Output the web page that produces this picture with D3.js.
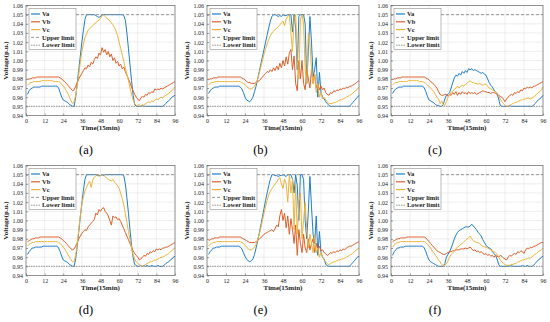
<!DOCTYPE html>
<html>
<head>
<meta charset="utf-8">
<script src="https://cdn.jsdelivr.net/npm/d3@7"></script>
<style>
	body { margin: 0; background: #fff; }
	svg { display: block; font-family: "Liberation Serif", "DejaVu Serif", serif; }
</style>
</head>
<body>
<div id="chart"></div>
<script>
// time steps (15 min) and axis ticks
var times = d3.range(1, 97);
var xTicks = [0, 12, 24, 36, 48, 60, 72, 84, 96];
var yTicks = [0.94, 0.95, 0.96, 0.97, 0.98, 0.99, 1.00, 1.01, 1.02, 1.03, 1.04, 1.05, 1.06];
var upperLimit = 1.05;
var lowerLimit = 0.95;
var seriesNames = ["Va", "Vb", "Vc"];
var limitNames = ["Upper limit", "Lower limit"];
var panelLabels = ["(a)", "(b)", "(c)", "(d)", "(e)", "(f)"];

// (a)
var aVa = [.963,.967,.969,.970,.971,.971,.971,.971,.971,.972,.972,.972,
	.972,.972,.972,.972,.972,.972,.972,.972,.970,.965,.960,.957,
	.956,.955,.954,.952,.951,.950,.950,.960,.975,.990,1.005,1.020,
	1.033,1.045,1.050,1.050,1.050,1.050,1.050,1.050,1.049,1.048,1.047,1.048,
	1.050,1.050,1.050,1.050,1.050,1.050,1.050,1.050,1.050,1.050,1.050,1.050,
	1.050,1.050,1.049,1.044,1.030,1.013,.995,.978,.962,.952,.950,.950,
	.950,.950,.951,.950,.950,.950,.950,.950,.950,.950,.950,.950,
	.950,.950,.950,.950,.951,.953,.955,.956,.958,.960,.961,.962];
var aVb = [.979,.980,.980,.981,.981,.981,.982,.982,.982,.982,.982,.982,
	.982,.982,.982,.982,.982,.982,.982,.982,.982,.981,.980,.978,
	.977,.975,.973,.971,.969,.967,.968,.972,.976,.980,.983,.986,
	.989,.992,.991,.995,.993,.998,.996,1.001,1.004,1.002,1.008,1.006,
	1.014,1.009,1.012,1.006,1.010,1.004,1.007,1.000,1.003,.997,.999,.994,
	.996,.991,.993,.988,.984,.980,.976,.971,.967,.963,.960,.958,
	.956,.959,.961,.960,.963,.962,.965,.964,.966,.965,.969,.968,
	.969,.968,.970,.969,.970,.971,.972,.973,.974,.975,.976,.977];
var aVc = [.973,.975,.976,.976,.977,.977,.977,.977,.977,.978,.978,.978,
	.978,.978,.978,.978,.978,.977,.977,.977,.977,.976,.974,.972,
	.970,.967,.964,.960,.956,.953,.955,.962,.972,.985,.998,1.010,
	1.018,1.025,1.029,1.033,1.035,1.036,1.038,1.040,1.041,1.043,1.044,1.046,
	1.049,1.050,1.048,1.046,1.045,1.043,1.041,1.039,1.036,1.032,1.027,1.020,
	1.013,1.006,.999,.992,.985,.978,.970,.963,.957,.953,.951,.951,
	.952,.950,.952,.951,.953,.954,.955,.954,.956,.955,.957,.958,
	.957,.959,.960,.959,.961,.962,.963,.964,.966,.967,.969,.971];

// (b)
var bVa = [.964,.967,.969,.970,.971,.971,.971,.972,.972,.972,.972,.972,
	.972,.972,.972,.972,.972,.972,.972,.972,.971,.969,.965,.960,
	.957,.956,.955,.957,.960,.966,.972,.980,.988,.996,1.004,1.012,
	1.020,1.028,1.036,1.043,1.048,1.050,1.050,1.049,1.048,1.049,1.048,1.050,
	1.049,1.049,1.050,1.050,1.050,1.031,1.050,1.035,.990,1.048,1.050,1.050,
	1.050,1.040,.975,1.010,1.048,1.020,.982,.990,1.003,.960,.987,.965,
	.960,.958,.955,.953,.951,.950,.950,.950,.950,.950,.950,.950,
	.950,.950,.950,.950,.950,.950,.952,.954,.956,.958,.960,.962];
var bVb = [.979,.980,.980,.981,.981,.981,.982,.982,.982,.982,.982,.982,
	.982,.982,.982,.982,.982,.982,.982,.982,.982,.981,.980,.979,
	.977,.976,.976,.975,.975,.975,.976,.977,.978,.980,.982,.984,
	.986,.988,.987,.990,.988,.992,.989,.994,.990,.997,.992,1.000,
	.994,1.004,.996,1.008,1.012,.990,1.005,.975,.967,1.000,.980,1.000,
	.975,.968,.990,.980,.970,.990,.975,.985,.970,.975,.968,.972,
	.968,.970,.965,.963,.962,.965,.964,.967,.966,.968,.967,.969,
	.968,.970,.969,.971,.970,.972,.972,.973,.974,.975,.977,.978];
var bVc = [.973,.975,.976,.976,.977,.977,.977,.977,.977,.977,.977,.977,
	.977,.977,.977,.977,.977,.977,.977,.977,.977,.976,.975,.974,
	.972,.970,.969,.969,.970,.972,.975,.980,.986,.993,1.000,1.007,
	1.013,1.018,1.023,1.027,1.030,1.032,1.034,1.035,1.037,1.039,1.041,1.043,
	1.038,1.045,1.048,1.050,1.030,1.010,1.045,1.050,1.000,.980,1.045,1.050,
	1.040,.990,.975,1.030,1.020,.990,.975,.985,.965,.975,.960,.965,
	.958,.960,.957,.955,.953,.953,.953,.954,.954,.955,.956,.957,
	.957,.958,.959,.960,.961,.962,.963,.964,.966,.967,.969,.971];

// (c)
var cVa = [.964,.967,.969,.970,.971,.971,.971,.972,.972,.972,.972,.972,
	.972,.972,.972,.972,.972,.972,.972,.972,.970,.966,.961,.957,
	.956,.955,.954,.952,.951,.951,.950,.950,.952,.958,.962,.963,
	.965,.970,.976,.981,.984,.983,.986,.984,.988,.986,.989,.987,
	.991,.990,.991,.989,.990,.989,.988,.987,.986,.987,.985,.984,
	.980,.976,.973,.971,.968,.966,.964,.958,.951,.950,.950,.950,
	.950,.950,.951,.950,.950,.950,.950,.950,.950,.950,.950,.950,
	.950,.950,.950,.950,.950,.951,.953,.955,.957,.958,.960,.962];
var cVb = [.979,.980,.980,.981,.981,.981,.982,.982,.982,.982,.982,.982,
	.982,.982,.982,.982,.982,.982,.982,.982,.982,.981,.980,.979,
	.977,.976,.974,.972,.970,.966,.963,.962,.962,.963,.963,.961,
	.963,.962,.965,.963,.966,.962,.965,.963,.966,.964,.965,.963,
	.966,.964,.965,.964,.965,.963,.964,.965,.966,.967,.966,.966,
	.965,.965,.964,.965,.965,.964,.963,.962,.961,.960,.958,.955,
	.958,.960,.962,.963,.962,.965,.964,.966,.965,.968,.967,.970,
	.969,.971,.970,.971,.970,.972,.972,.973,.974,.975,.976,.977];
var cVc = [.973,.975,.976,.976,.977,.977,.977,.977,.977,.977,.978,.978,
	.978,.978,.978,.978,.978,.977,.977,.977,.976,.975,.973,.972,
	.970,.968,.966,.963,.960,.958,.953,.956,.952,.951,.955,.960,
	.963,.965,.967,.968,.970,.972,.970,.972,.973,.972,.974,.975,
	.977,.978,.976,.976,.975,.975,.974,.975,.974,.973,.974,.974,
	.972,.970,.969,.968,.967,.966,.964,.962,.958,.955,.953,.951,
	.950,.950,.951,.952,.953,.954,.954,.955,.956,.957,.957,.958,
	.958,.959,.959,.958,.959,.960,.962,.963,.965,.966,.968,.971];

// (d)
var dVa = [.963,.966,.968,.970,.970,.971,.971,.971,.971,.971,.972,.972,
	.972,.972,.972,.972,.972,.972,.972,.972,.970,.966,.961,.957,
	.956,.955,.954,.952,.951,.950,.950,.958,.972,.988,1.004,1.019,
	1.033,1.045,1.050,1.050,1.050,1.050,1.050,1.050,1.050,1.049,1.049,1.049,
	1.050,1.049,1.050,1.050,1.050,1.050,1.050,1.050,1.050,1.050,1.050,1.050,
	1.050,1.050,1.049,1.040,1.025,1.008,.990,.973,.960,.952,.951,.950,
	.950,.951,.950,.951,.950,.951,.950,.950,.951,.950,.950,.950,
	.951,.950,.950,.950,.951,.953,.954,.955,.957,.958,.960,.961];
var dVb = [.977,.978,.979,.980,.980,.981,.981,.981,.982,.982,.982,.982,
	.982,.982,.982,.982,.982,.982,.982,.982,.982,.981,.980,.978,
	.977,.975,.973,.971,.969,.968,.969,.972,.976,.980,.983,.986,
	.988,.990,.989,.993,.995,.997,.999,1.001,1.008,1.006,1.012,1.010,
	1.013,1.014,1.010,1.008,1.005,1.000,.995,1.005,1.003,1.004,1.001,1.002,
	.999,.995,.991,.987,.983,.979,.975,.971,.967,.964,.962,.960,
	.957,.958,.960,.962,.961,.964,.963,.966,.965,.967,.966,.969,
	.968,.969,.968,.970,.970,.971,.971,.972,.973,.974,.975,.976];
var dVc = [.972,.974,.975,.976,.976,.977,.977,.977,.977,.977,.977,.977,
	.977,.977,.977,.977,.977,.977,.977,.977,.976,.975,.973,.971,
	.969,.966,.963,.960,.957,.955,.955,.962,.975,.990,1.005,1.018,
	1.026,1.032,1.036,1.040,1.043,1.036,1.044,1.047,1.049,1.050,1.048,1.049,
	1.050,1.050,1.048,1.046,1.045,1.044,1.043,1.045,1.042,1.040,1.038,1.035,
	1.030,1.024,1.017,1.008,.998,.988,.979,.970,.963,.958,.955,.953,
	.952,.951,.950,.951,.952,.953,.954,.955,.955,.956,.957,.957,
	.958,.959,.960,.960,.961,.962,.963,.964,.966,.967,.969,.970];

// (e)
var eVa = [.963,.966,.968,.970,.970,.971,.971,.971,.972,.972,.972,.972,
	.972,.972,.972,.972,.972,.972,.972,.972,.971,.969,.965,.961,
	.958,.956,.955,.956,.958,.963,.970,.978,.986,.995,1.004,1.013,
	1.022,1.030,1.038,1.045,1.050,1.050,1.049,1.049,1.048,1.049,1.049,1.050,
	1.049,1.048,1.050,1.050,1.050,1.045,1.030,1.050,1.038,1.000,1.050,1.050,
	1.045,1.000,.980,1.010,1.048,1.015,.985,.975,1.005,.962,.988,.965,
	.960,.958,.952,.951,.950,.950,.950,.950,.950,.950,.950,.950,
	.950,.950,.950,.950,.950,.950,.952,.954,.956,.958,.960,.961];
var eVb = [.978,.979,.980,.980,.981,.981,.981,.982,.982,.982,.982,.982,
	.982,.982,.982,.982,.982,.982,.982,.982,.982,.981,.980,.979,
	.978,.977,.976,.976,.976,.976,.977,.978,.980,.981,.983,.985,
	.986,.987,.988,.989,.990,.988,.991,.995,.993,1.005,1.012,1.000,
	1.008,.992,1.005,.985,1.002,.990,.975,.995,.962,.990,.975,.965,
	.985,.970,.965,.980,.968,.975,.980,.965,.975,.968,.972,.967,
	.968,.965,.964,.962,.963,.965,.964,.966,.965,.967,.966,.968,
	.967,.969,.968,.970,.971,.972,.972,.973,.974,.975,.976,.977];
var eVc = [.972,.974,.975,.976,.976,.977,.977,.977,.977,.977,.977,.977,
	.977,.977,.977,.977,.977,.977,.977,.977,.977,.976,.975,.973,
	.971,.969,.968,.968,.969,.971,.974,.979,.985,.992,1.000,1.008,
	1.015,1.022,1.028,1.032,1.035,1.037,1.040,1.042,1.045,1.047,1.040,1.035,
	1.045,1.040,1.020,1.050,1.030,1.045,.990,1.040,.985,1.020,1.030,.980,
	1.000,1.020,.990,.970,.985,.975,.965,.985,.965,.970,.960,.965,
	.960,.957,.955,.953,.952,.953,.954,.955,.955,.956,.957,.957,
	.958,.958,.959,.960,.961,.962,.963,.964,.966,.967,.969,.970];

// (f)
var fVa = [.962,.966,.968,.970,.970,.971,.971,.971,.972,.972,.972,.972,
	.972,.972,.972,.972,.972,.972,.972,.972,.970,.966,.961,.957,
	.955,.954,.953,.952,.951,.950,.950,.950,.950,.953,.960,.963,
	.966,.970,.975,.980,.984,.987,.989,.990,.991,.992,.993,.993,
	.993,.994,.996,.994,.992,.990,.987,.985,.983,.979,.976,.973,
	.971,.970,.969,.966,.964,.962,.958,.952,.950,.950,.950,.950,
	.950,.950,.950,.951,.950,.950,.950,.950,.950,.950,.951,.950,
	.950,.951,.950,.950,.950,.951,.953,.955,.957,.958,.960,.961];
var fVb = [.977,.978,.979,.980,.980,.981,.981,.981,.981,.982,.982,.982,
	.982,.982,.982,.982,.982,.982,.982,.982,.982,.981,.979,.977,
	.975,.973,.971,.969,.967,.966,.965,.964,.963,.963,.964,.965,
	.966,.966,.967,.967,.968,.968,.968,.969,.969,.969,.970,.969,
	.970,.971,.969,.967,.968,.966,.967,.965,.966,.964,.963,.964,
	.962,.963,.961,.962,.960,.962,.961,.960,.962,.961,.959,.958,
	.957,.960,.962,.961,.963,.964,.963,.966,.965,.967,.966,.964,
	.968,.970,.969,.971,.970,.972,.972,.973,.974,.975,.976,.976];
var fVc = [.971,.973,.975,.976,.976,.977,.977,.977,.977,.977,.977,.977,
	.977,.977,.977,.977,.977,.977,.977,.977,.977,.976,.974,.972,
	.970,.967,.965,.962,.960,.957,.955,.952,.951,.951,.953,.956,
	.960,.963,.965,.967,.969,.971,.972,.974,.975,.977,.978,.980,
	.981,.983,.980,.978,.977,.976,.976,.975,.973,.972,.971,.971,
	.970,.969,.968,.967,.966,.965,.963,.960,.957,.955,.953,.952,
	.951,.951,.951,.952,.952,.953,.953,.955,.955,.956,.957,.957,
	.958,.958,.959,.959,.960,.962,.963,.964,.966,.967,.968,.970];

var panelSeries = [
	[aVa, aVb, aVc], [bVa, bVb, bVc], [cVa, cVb, cVc],
	[dVa, dVb, dVc], [eVa, eVb, eVc], [fVa, fVb, fVc]
];

var colors = ["#1f7dc6", "#dd5f2a", "#edb43a"];

class VoltagePanel {
	constructor(svg, left, top, width, height) {
		this.left = left;
		this.top = top;
		this.width = width;
		this.height = height;
		this.g = svg.append("g").attr("transform", "translate(" + left + "," + top + ")");

		this.x = d3.scaleLinear().domain([0, 96]).range([0, width]);
		this.y = d3.scaleLinear().domain([0.94, 1.06]).range([height, 0]);
	}

	draw(lines, label, labelX) {
		var that = this;
		var g = this.g;

		// grid
		g.append("g").selectAll("line.gx")
			.data(xTicks).enter().append("line")
			.attr("x1", function(d) { return that.x(d); })
			.attr("x2", function(d) { return that.x(d); })
			.attr("y1", 0).attr("y2", this.height)
			.attr("stroke", "#e3e3e3").attr("stroke-width", 0.6);
		g.append("g").selectAll("line.gy")
			.data(yTicks).enter().append("line")
			.attr("x1", 0).attr("x2", this.width)
			.attr("y1", function(d) { return that.y(d); })
			.attr("y2", function(d) { return that.y(d); })
			.attr("stroke", "#e3e3e3").attr("stroke-width", 0.6);

		// voltage curves
		var line = d3.line()
			.x(function(d, i) { return that.x(times[i]); })
			.y(function(d) { return that.y(d); });

		lines.forEach(function(s, i) {
			g.append("path")
				.datum(s)
				.attr("fill", "none")
				.attr("stroke", colors[i])
				.attr("stroke-width", 1.0)
				.attr("stroke-linejoin", "round")
				.attr("d", line);
		});

		// limits
		g.append("line")
			.attr("x1", 0).attr("x2", this.width)
			.attr("y1", this.y(upperLimit)).attr("y2", this.y(upperLimit))
			.attr("stroke", "#8c8c8c").attr("stroke-width", 0.9)
			.attr("stroke-dasharray", "3,2");
		g.append("line")
			.attr("x1", 0).attr("x2", this.width)
			.attr("y1", this.y(lowerLimit)).attr("y2", this.y(lowerLimit))
			.attr("stroke", "#8c8c8c").attr("stroke-width", 0.9)
			.attr("stroke-dasharray", "1.5,1");

		// axes
		var xAxis = g.append("g")
			.attr("transform", "translate(0," + this.height + ")")
			.call(d3.axisBottom(this.x).tickValues(xTicks).tickSizeInner(-2).tickSizeOuter(0).tickPadding(3));
		var yAxis = g.append("g")
			.call(d3.axisLeft(this.y).tickValues(yTicks).tickFormat(d3.format(".2f")).tickSizeInner(-2).tickSizeOuter(0).tickPadding(3));
		[xAxis, yAxis].forEach(function(a) {
			a.select(".domain").remove();
			a.selectAll("line").attr("stroke", "#444").attr("stroke-width", 0.5);
			a.selectAll("text").attr("font-size", 6).attr("fill", "#222")
				.attr("font-family", "Liberation Serif, serif");
		});

		g.append("rect")
			.attr("width", this.width).attr("height", this.height)
			.attr("fill", "none").attr("stroke", "#555").attr("stroke-width", 0.6);

		// legend
		var lg = g.append("g").attr("transform", "translate(3,3)");
		lg.append("rect")
			.attr("width", 47).attr("height", 41)
			.attr("fill", "#fff").attr("stroke", "#777").attr("stroke-width", 0.5);
		var legendItems = seriesNames.map(function(n, i) {
			return { name: n, color: colors[i], dash: null };
		}).concat([
			{ name: limitNames[0], color: "#8c8c8c", dash: "3,2" },
			{ name: limitNames[1], color: "#8c8c8c", dash: "1.5,1" }
		]);
		var row = lg.selectAll("g.item").data(legendItems).enter().append("g")
			.attr("transform", function(d, i) { return "translate(0," + (5.5 + i * 7.8) + ")"; });
		row.append("line")
			.attr("x1", 2).attr("x2", 11)
			.attr("stroke", function(d) { return d.color; })
			.attr("stroke-width", function(d) { return d.dash ? 0.9 : 1.2; })
			.attr("stroke-dasharray", function(d) { return d.dash; });
		row.append("text")
			.attr("x", 13).attr("y", 2.2)
			.attr("font-size", 6.5).attr("font-weight", "bold").attr("fill", "#222")
			.text(function(d) { return d.name; });

		// axis titles
		g.append("text")
			.attr("x", this.width / 2).attr("y", this.height + 14)
			.attr("text-anchor", "middle")
			.attr("font-size", 7).attr("font-weight", "bold").attr("fill", "#222")
			.text("Time(15min)");
		g.append("text")
			.attr("transform", "translate(-18.5," + (this.height / 2) + ") rotate(-90)")
			.attr("text-anchor", "middle")
			.attr("font-size", 7).attr("font-weight", "bold").attr("fill", "#222")
			.text("Voltage(p.u.)");

		// panel label
		g.append("text")
			.attr("x", labelX - this.left).attr("y", this.height + 38)
			.attr("text-anchor", "middle")
			.attr("font-size", 12.5).attr("fill", "#000")
			.text(label);
	}
}

var svg = d3.select("#chart").append("svg")
	.attr("width", 550)
	.attr("height", 322);

var colLeft = [26, 207, 391];
var colWidth = [149, 152, 152];
var rowTop = [5.5, 165.5];
var plotH = 110;

panelSeries.forEach(function(lines, k) {
	var col = k % 3, row = Math.floor(k / 3);
	var p = new VoltagePanel(svg, colLeft[col], rowTop[row], colWidth[col], plotH);
	p.draw(lines, panelLabels[k], 86 + col * 174.5);
});
</script>
</body>
</html>
